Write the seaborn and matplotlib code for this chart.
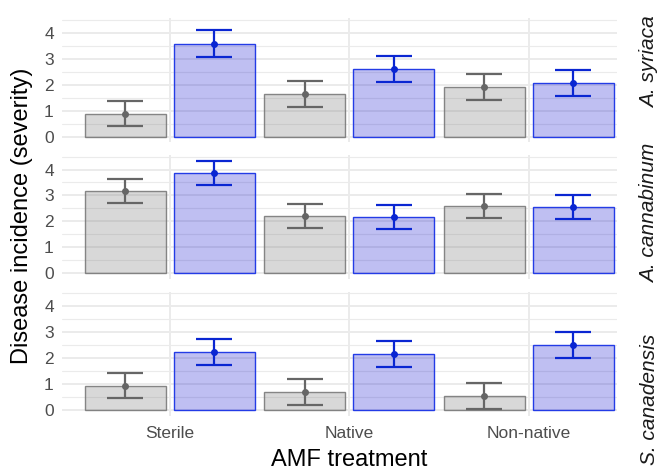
import matplotlib

matplotlib.use("Agg")
import matplotlib.pyplot as plt
import numpy as np
import pandas as pd
import seaborn as sns
from matplotlib.ticker import MultipleLocator

# categorias y grupos
tratamientos = ["Sterile", "Native", "Non-native"]
grupos = ["Control", "Inoculated"]
especies = ["A. syriaca", "A. cannabinum", "S. canadensis"]

# medias por especie: [control x 3 tratamientos, inoculado x 3 tratamientos]
media_syriaca = [0.88, 1.65, 1.91, 3.58, 2.60, 2.05]
media_cannabinum = [3.16, 2.20, 2.60, 3.87, 2.18, 2.55]
media_canadensis = [0.95, 0.69, 0.54, 2.24, 2.15, 2.53]

# error estandar (mismo orden)
ee_syriaca = [0.49, 0.50, 0.51, 0.51, 0.50, 0.50]
ee_cannabinum = [0.46, 0.47, 0.47, 0.47, 0.47, 0.47]
ee_canadensis = [0.49, 0.50, 0.49, 0.49, 0.50, 0.50]

medias = [media_syriaca, media_cannabinum, media_canadensis]
errores = [ee_syriaca, ee_cannabinum, ee_canadensis]

# posicion vertical (fraccion de figura) de las etiquetas de especie
pos_etiqueta = [0.868, 0.545, 0.150]

relleno = {"Control": (0.5, 0.5, 0.5, 0.30), "Inoculated": (0.0, 0.0, 0.80, 0.25)}
borde = {"Control": (0.45, 0.45, 0.45, 0.85), "Inoculated": (0.10, 0.20, 0.90, 0.95)}
color_err = {"Control": "#666666", "Inoculated": "#0A26D2"}

sns.set_theme(style="whitegrid")
plt.rcParams["font.family"] = ["Liberation Sans", "DejaVu Sans"]

fig, axes = plt.subplots(3, 1, figsize=(6.61, 4.70), dpi=100, sharex=True, sharey=True)
fig.subplots_adjust(left=0.094, right=0.933, top=0.962, bottom=0.115, hspace=0.1)

for ax, sp, med, ee, yl in zip(axes, especies, medias, errores, pos_etiqueta):
    df = pd.DataFrame(
        {
            "amf": tratamientos * 2,
            "grupo": [grupos[0]] * 3 + [grupos[1]] * 3,
            "incidencia": med,
            "ee": ee,
        }
    )
    sns.barplot(
        data=df,
        x="amf",
        y="incidencia",
        hue="grupo",
        order=tratamientos,
        hue_order=grupos,
        width=0.99,
        gap=0.09,
        errorbar=None,
        saturation=1,
        legend=False,
        ax=ax,
    )
    for cont, g in zip(ax.containers, grupos):
        sub = df[df["grupo"] == g].set_index("amf").loc[tratamientos]
        xs = []
        for bar in cont:
            bar.set_facecolor(relleno[g])
            bar.set_edgecolor(borde[g])
            bar.set_linewidth(1.0)
            xs.append(bar.get_x() + bar.get_width() / 2)
        xs = np.array(xs)
        lo = np.minimum(sub["ee"].values, sub["incidencia"].values - 0.04)
        ax.errorbar(
            xs,
            sub["incidencia"].values,
            yerr=[lo, sub["ee"].values],
            fmt="o",
            ms=4,
            color=color_err[g],
            ecolor=color_err[g],
            elinewidth=1.6,
            capsize=13,
            capthick=1.6,
            zorder=3,
        )
    ax.set_xlim(-0.6, 2.49)
    ax.set_ylim(-0.22, 4.57)
    ax.yaxis.set_major_locator(MultipleLocator(1))
    ax.yaxis.set_minor_locator(MultipleLocator(0.5))
    ax.grid(which="major", axis="both", color="#EBEBEB", linewidth=1.4)
    ax.grid(which="minor", axis="y", color="#EBEBEB", linewidth=0.8)
    ax.set_axisbelow(True)
    for s in ax.spines.values():
        s.set_visible(False)
    ax.set_xlabel("")
    ax.set_ylabel("")
    ax.tick_params(axis="both", which="both", length=0, labelsize=12.5, colors="#4D4D4D")
    ax.tick_params(axis="y", pad=6)
    fig.text(
        0.983,
        yl,
        sp,
        rotation=90,
        ha="center",
        va="center",
        fontsize=15,
        style="italic",
        color="#1A1A1A",
    )

axes[-1].tick_params(axis="x", pad=7)
fig.text(0.529, 0.0075, "AMF treatment", ha="center", va="baseline", fontsize=17, color="black")
fig.text(0.016, 0.540, "Disease incidence (severity)", rotation=90, ha="left", va="center", fontsize=17, color="black")

plt.savefig("out.png", dpi=100)
